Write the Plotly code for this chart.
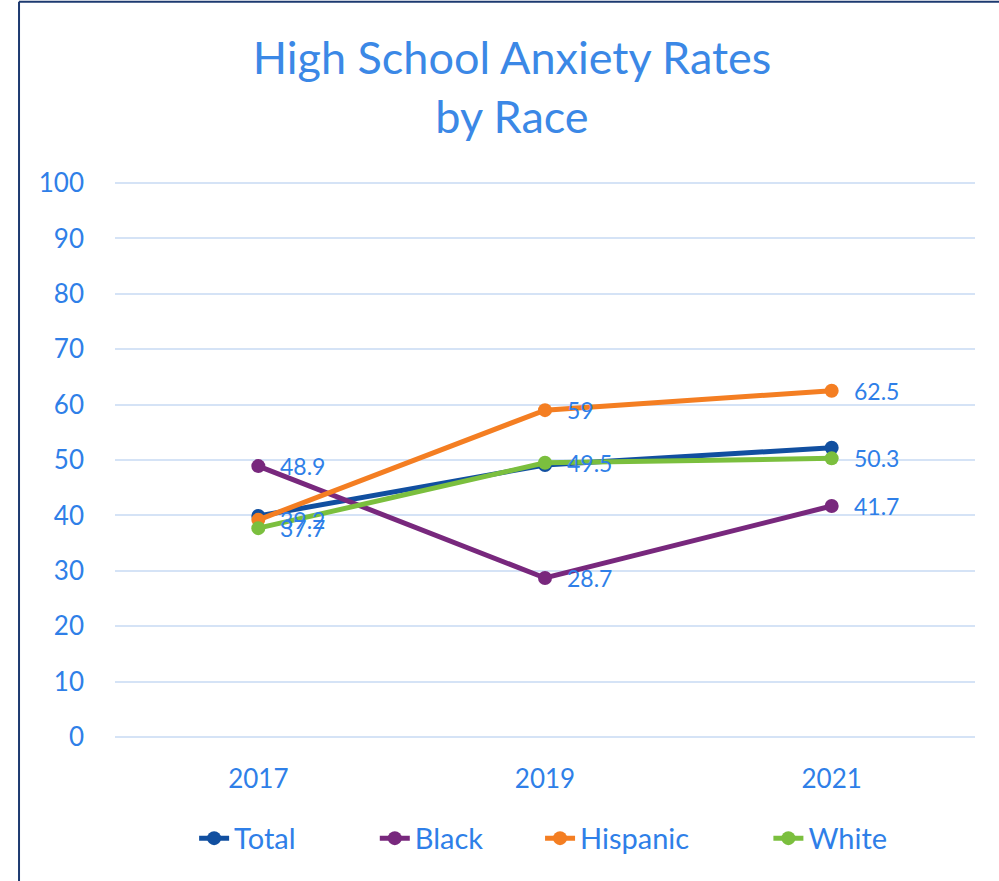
import plotly.graph_objects as go

years = ["2017", "2019", "2021"]
total = [39.9, 49.1, 52.2]
black = [48.9, 28.7, 41.7]
hispanic = [39.2, 59, 62.5]
white = [37.7, 49.5, 50.3]
y_ticks = list(range(0, 101, 10))

series = [
    ("Total", total, "#114fa0", False, 10),
    ("Black", black, "#78287d", True, 7),
    ("Hispanic", hispanic, "#f47e22", True, 10),
    ("White", white, "#7bbf3e", True, 0),
]

FONT = "Lato, Carlito, Calibri, sans-serif"
TXT = "#2f7fe8"

fig = go.Figure()
annotations = []
for name, vals, color, labeled, pad in series:
    fig.add_trace(go.Scatter(
        x=years, y=vals, name=name + "\u00a0" * pad,
        mode="lines+markers",
        line=dict(color=color, width=5),
        marker=dict(color=color, size=14),
    ))
    if labeled:
        for i, yv in enumerate(vals):
            annotations.append(dict(
                x=i, y=yv, xref="x", yref="y", text=f"{yv:g}",
                showarrow=False, xanchor="left", yanchor="middle",
                xshift=20, font=dict(family=FONT, size=23, color=TXT),
            ))

fig.update_layout(
    width=999, height=881,
    margin=dict(l=115, r=24, t=181, b=142),
    paper_bgcolor="white", plot_bgcolor="white",
    title=dict(text="High School Anxiety Rates<br>by Race", x=0.5125, xanchor="center",
               y=0.916, yanchor="middle",
               font=dict(family=FONT, size=45, color="#3b88e6")),
    font=dict(family=FONT, color=TXT),
    xaxis=dict(type="category", range=[-0.5, 2.5], showgrid=False, showline=False,
               zeroline=False, ticks="", ticklabelstandoff=22,
               tickfont=dict(size=26, color=TXT)),
    yaxis=dict(range=[-0.36, 100.36], tickvals=y_ticks, showgrid=True, gridcolor="#d5e3f6",
               gridwidth=2, zeroline=False, showline=False, ticks="",
               ticklabelstandoff=30, tickfont=dict(size=26, color=TXT)),
    legend=dict(orientation="h", x=0.092, xanchor="left", y=-0.178, yanchor="middle",
                font=dict(size=29, color=TXT), traceorder="normal"),
    annotations=annotations,
    shapes=[
        dict(type="line", xref="paper", yref="paper", x0=-0.1116, x1=-0.1116,
             y0=-0.4, y1=1.3213, line=dict(color="#1d3a70", width=2)),
        dict(type="line", xref="paper", yref="paper", x0=-0.1116, x1=1.1,
             y0=1.3213, y1=1.3213, line=dict(color="#1d3a70", width=2)),
    ],
)

fig.write_html("out.html")
